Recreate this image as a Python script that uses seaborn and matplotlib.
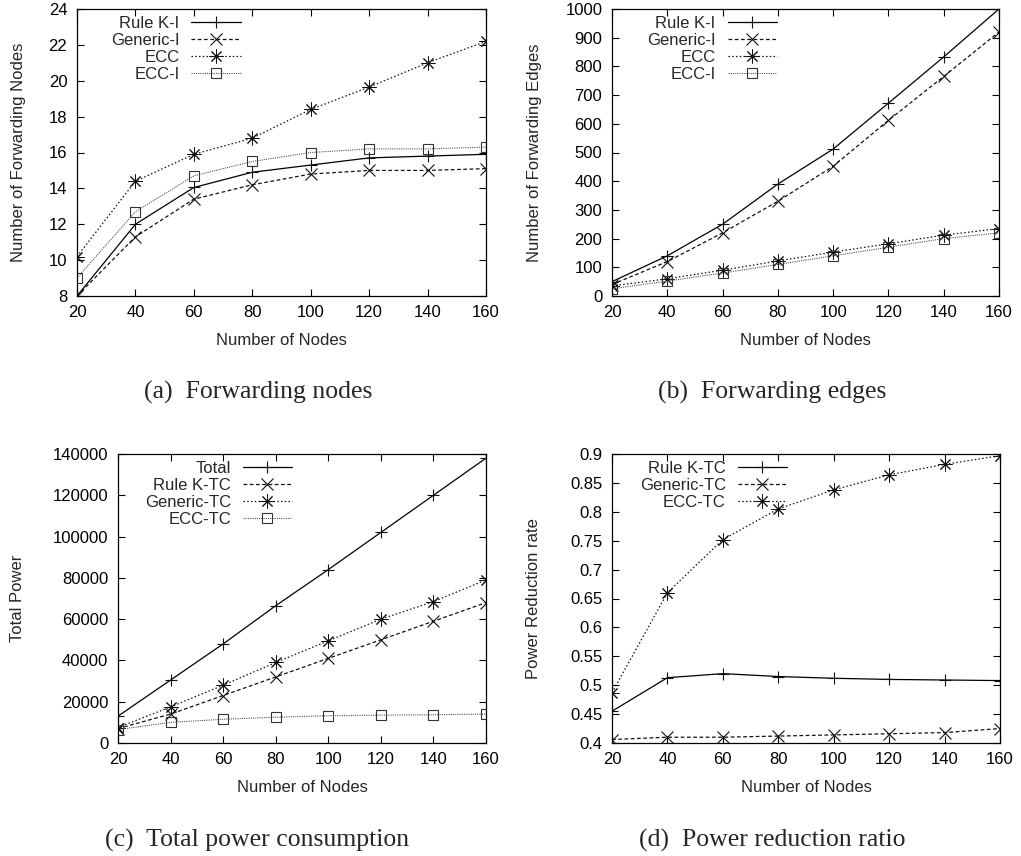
import matplotlib
matplotlib.use("Agg")
import matplotlib.pyplot as plt
import seaborn as sns
import numpy as np
from matplotlib.ticker import FuncFormatter, MultipleLocator

nodes = [20, 40, 60, 80, 100, 120, 140, 160]

# (a) forwarding nodes
a_rule_ki = [8.0, 12.0, 14.05, 14.9, 15.3, 15.7, 15.8, 15.9]
a_generic_i = [8.0, 11.3, 13.4, 14.2, 14.8, 15.0, 15.0, 15.1]
a_ecc = [10.2, 14.4, 15.9, 16.8, 18.4, 19.65, 21.0, 22.2]
a_ecc_i = [9.0, 12.7, 14.7, 15.5, 16.0, 16.2, 16.2, 16.3]

# (b) forwarding edges
b_rule_ki = [50, 140, 250, 390, 512, 672, 833, 1000]
b_generic_i = [40, 120, 220, 330, 452, 612, 765, 920]
b_ecc = [35, 60, 90, 122, 153, 182, 212, 235]
b_ecc_i = [25, 52, 80, 110, 140, 170, 200, 220]

# (c) total power
c_total = [13000, 30500, 48000, 66500, 84000, 102000, 120000, 138000]
c_rule_ktc = [7000, 14000, 23000, 32000, 41000, 50000, 59000, 68000]
c_generic_tc = [7500, 17500, 28000, 39000, 49500, 60000, 68500, 79000]
c_ecc_tc = [6500, 10000, 11500, 12500, 13200, 13500, 13700, 14000]

# (d) power reduction ratio
d_rule_ktc = [0.455, 0.513, 0.520, 0.515, 0.512, 0.510, 0.509, 0.508]
d_generic_tc = [0.406, 0.410, 0.410, 0.412, 0.414, 0.416, 0.418, 0.425]
d_ecc_tc = [0.487, 0.660, 0.752, 0.805, 0.838, 0.864, 0.882, 0.897]

sns.set_style("ticks")
plt.rcParams['font.family'] = ['Liberation Sans', 'DejaVu Sans']
FS = 12

W, H = 1021, 856
fig = plt.figure(figsize=(W / 100, H / 100), dpi=100)


def px_axes(x0, x1, y0, y1):
    return fig.add_axes([x0 / W, (H - y1) / H, (x1 - x0) / W, (y1 - y0) / H])


STY = {
    'solid': dict(color='black', linestyle='-', lw=0.9),
    'dash': dict(color='#111111', linestyle=(0, (3, 2)), lw=0.9),
    'dot': dict(color='#111111', linestyle=(0, (1.2, 1.8)), lw=0.9),
    'fine': dict(color='#555555', linestyle=(0, (1, 1)), lw=0.8),
}
MK = {
    'plus': dict(marker='+', markersize=9, markeredgewidth=0.8),
    'x': dict(marker='x', markersize=8, markeredgewidth=0.8),
    'ast': dict(marker=(8, 2, 0), markersize=10, markeredgewidth=0.7),
    'sq': dict(marker='s', markersize=7.5, markeredgewidth=0.8, markerfacecolor='none'),
}


def draw(ax, series, ylim, ystep, ylabel, leg_x, ylab_x, fmt=None):
    for vals, label, st, mk in series:
        kw = dict(STY[st])
        kw.update(MK[mk])
        kw['markeredgecolor'] = '#111111' if mk != 'sq' else '#333333'
        sns.lineplot(x=nodes, y=vals, ax=ax, label=label, **kw)
    ax.set_xlim(20, 160)
    ax.set_ylim(*ylim)
    ax.xaxis.set_major_locator(MultipleLocator(20))
    ax.yaxis.set_major_locator(MultipleLocator(ystep))
    if fmt:
        ax.yaxis.set_major_formatter(FuncFormatter(fmt))
    ax.tick_params(direction='in', length=5, width=0.8, top=True, right=True,
                   labelsize=FS, colors='black')
    ax.tick_params(axis='y', pad=7)
    ax.tick_params(axis='x', pad=6.5)
    for s in ax.spines.values():
        s.set_visible(True)
        s.set_color('black')
        s.set_linewidth(0.9)
    ax.set_xlabel('Number of Nodes', fontsize=FS, labelpad=9.5)
    ax.set_ylabel(ylabel, fontsize=FS, va='center')
    bb = ax.get_position()
    ax.yaxis.set_label_coords(ylab_x / W, bb.y0 + bb.height / 2, transform=fig.transFigure)
    leg = ax.legend(loc='upper right', bbox_to_anchor=(leg_x, 0.977), frameon=False,
                    markerfirst=False, handlelength=2.95, handletextpad=0.72,
                    labelspacing=0.13, borderpad=0, borderaxespad=0, fontsize=FS)
    return leg


ax_a = px_axes(77, 486, 9, 296)
draw(ax_a, [(a_rule_ki, 'Rule K-I', 'solid', 'plus'),
            (a_generic_i, 'Generic-I', 'dash', 'x'),
            (a_ecc, 'ECC', 'dot', 'ast'),
            (a_ecc_i, 'ECC-I', 'fine', 'sq')],
     (8, 24), 2, 'Number of Forwarding Nodes', 0.40, 19)

ax_b = px_axes(612, 999, 9, 296)
draw(ax_b, [(b_rule_ki, 'Rule K-I', 'solid', 'plus'),
            (b_generic_i, 'Generic-I', 'dash', 'x'),
            (b_ecc, 'ECC', 'dot', 'ast'),
            (b_ecc_i, 'ECC-I', 'fine', 'sq')],
     (0, 1000), 100, 'Number of Forwarding Edges', 0.426, 534)

ax_c = px_axes(118, 486, 454, 743)
draw(ax_c, [(c_total, 'Total', 'solid', 'plus'),
            (c_rule_ktc, 'Rule K-TC', 'dash', 'x'),
            (c_generic_tc, 'Generic-TC', 'dot', 'ast'),
            (c_ecc_tc, 'ECC-TC', 'fine', 'sq')],
     (0, 140000), 20000, 'Total Power', 0.473, 18)

ax_d = px_axes(612, 1000, 454, 743)
draw(ax_d, [(d_rule_ktc, 'Rule K-TC', 'solid', 'plus'),
            (d_generic_tc, 'Generic-TC', 'dash', 'x'),
            (d_ecc_tc, 'ECC-TC', 'dot', 'ast')],
     (0.4, 0.9), 0.05, 'Power Reduction rate', 0.451, 533,
     fmt=lambda v, p: '%g' % round(v, 2))

captions = [('(a)  Forwarding nodes', 258, 392),
            ('(b)  Forwarding edges', 772, 392),
            ('(c)  Total power consumption', 257, 840),
            ('(d)  Power reduction ratio', 772, 840)]
for txt, cx, cy in captions:
    fig.text(cx / W, 1 - cy / H, txt, ha='center', va='center', fontsize=18.5,
             family=['Liberation Serif', 'DejaVu Serif'])

fig.savefig('out.png', dpi=100)
